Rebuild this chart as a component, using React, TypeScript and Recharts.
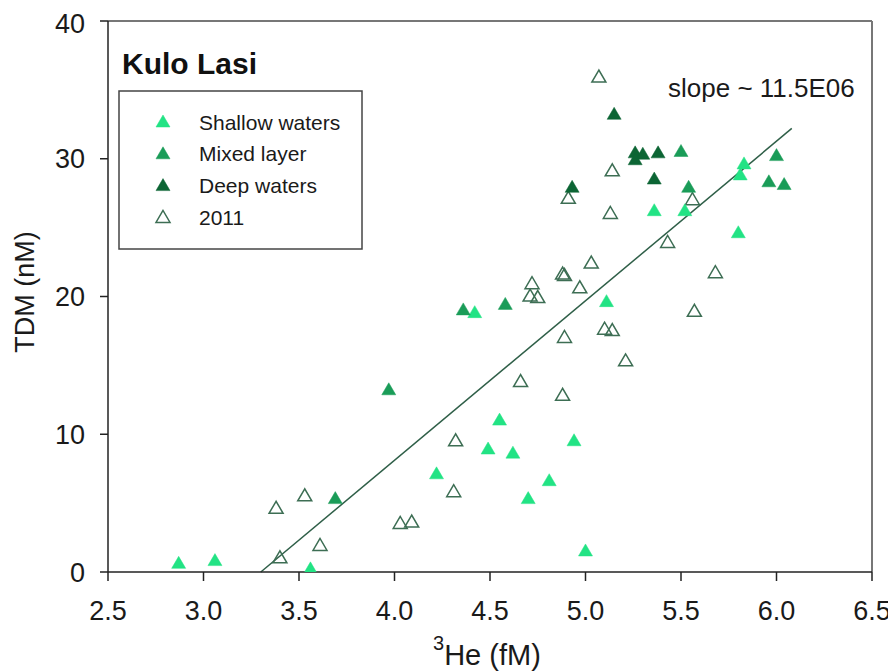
import React from 'react';
import { ScatterChart, Scatter, XAxis, YAxis, ReferenceLine } from 'recharts';

// 3He (fM) vs TDM (nM) measurements, grouped by water layer
const shallowWaters = [
  { he: 2.87, tdm: 0.7 }, { he: 3.06, tdm: 0.9 }, { he: 3.56, tdm: 0.3 },
  { he: 4.22, tdm: 7.2 }, { he: 4.42, tdm: 18.9 }, { he: 4.49, tdm: 9.0 },
  { he: 4.55, tdm: 11.1 }, { he: 4.62, tdm: 8.7 }, { he: 4.70, tdm: 5.4 },
  { he: 4.81, tdm: 6.7 }, { he: 4.94, tdm: 9.6 }, { he: 5.0, tdm: 1.6 },
  { he: 5.11, tdm: 19.7 }, { he: 5.36, tdm: 26.3 }, { he: 5.52, tdm: 26.3 },
  { he: 5.8, tdm: 24.7 }, { he: 5.81, tdm: 28.9 }, { he: 5.83, tdm: 29.7 },
];

const mixedLayer = [
  { he: 3.69, tdm: 5.4 }, { he: 3.97, tdm: 13.3 }, { he: 4.36, tdm: 19.1 },
  { he: 4.58, tdm: 19.5 }, { he: 5.5, tdm: 30.6 }, { he: 5.54, tdm: 28.0 },
  { he: 5.96, tdm: 28.4 }, { he: 6.0, tdm: 30.3 }, { he: 6.04, tdm: 28.2 },
];

const deepWaters = [
  { he: 4.93, tdm: 28.0 }, { he: 5.15, tdm: 33.3 }, { he: 5.26, tdm: 30.5 },
  { he: 5.3, tdm: 30.4 }, { he: 5.26, tdm: 30.0 }, { he: 5.38, tdm: 30.5 },
  { he: 5.36, tdm: 28.6 },
];

const samples2011 = [
  { he: 3.38, tdm: 4.7 }, { he: 3.4, tdm: 1.1 }, { he: 3.53, tdm: 5.6 },
  { he: 3.61, tdm: 2.0 }, { he: 4.03, tdm: 3.6 }, { he: 4.09, tdm: 3.7 },
  { he: 4.31, tdm: 5.9 }, { he: 4.32, tdm: 9.6 }, { he: 4.66, tdm: 13.9 },
  { he: 4.71, tdm: 20.1 }, { he: 4.72, tdm: 21.0 }, { he: 4.75, tdm: 20.0 },
  { he: 4.88, tdm: 12.9 }, { he: 4.88, tdm: 21.7 }, { he: 4.89, tdm: 21.6 },
  { he: 4.89, tdm: 17.1 }, { he: 4.91, tdm: 27.2 }, { he: 4.97, tdm: 20.7 },
  { he: 5.03, tdm: 22.5 }, { he: 5.07, tdm: 36.0 }, { he: 5.1, tdm: 17.7 },
  { he: 5.13, tdm: 26.1 }, { he: 5.14, tdm: 17.6 }, { he: 5.14, tdm: 29.2 },
  { he: 5.21, tdm: 15.4 }, { he: 5.43, tdm: 24.0 }, { he: 5.56, tdm: 27.1 },
  { he: 5.57, tdm: 19.0 }, { he: 5.68, tdm: 21.8 },
];

// Linear fit end points (slope ~ 11.5 nM per fM)
const fitLine = [
  { he: 3.3, tdm: 0 },
  { he: 6.08, tdm: 32.2 },
];

const xTicks = [2.5, 3.0, 3.5, 4.0, 4.5, 5.0, 5.5, 6.0, 6.5];
const yTicks = [0, 10, 20, 30, 40];

const FONT = '"Liberation Sans", Arial, Helvetica, sans-serif';

const COLORS = {
  shallow: '#22e384',
  mixed: '#1a9c58',
  deep: '#0c6534',
  y2011: '#3d6e54',
  fit: '#2f5f48',
};

const legendItems = [
  { label: 'Shallow waters', color: COLORS.shallow, filled: true },
  { label: 'Mixed layer', color: COLORS.mixed, filled: true },
  { label: 'Deep waters', color: COLORS.deep, filled: true },
  { label: '2011', color: COLORS.y2011, filled: false },
];

const triPoints = (cx: number, cy: number) =>
  `${cx},${cy - 7} ${cx - 7},${cy + 5} ${cx + 7},${cy + 5}`;

const makeTriangle = (color: string, filled: boolean) => (props: any) => {
  const { cx, cy } = props;
  if (cx == null || cy == null) return <g />;
  return (
    <polygon
      points={triPoints(cx, cy + 1)}
      fill={filled ? color : 'none'}
      stroke={color}
      strokeWidth={filled ? 0.5 : 1.5}
      strokeLinejoin="miter"
    />
  );
};

const LegendBox = () => (
  <g>
    <rect x={111} y={83} width={243} height={158} fill="#fff" stroke="#444" strokeWidth={1.5} />
    {legendItems.map((item, i) => {
      const cy = 114 + i * 31.8;
      return (
        <g key={item.label}>
          <polygon
            points={triPoints(155, cy)}
            fill={item.filled ? item.color : 'none'}
            stroke={item.color}
            strokeWidth={item.filled ? 0.5 : 1.5}
          />
          <text x={191} y={cy + 7.5} fontSize={21} fontFamily={FONT} fill="#1a1a1a">
            {item.label}
          </text>
        </g>
      );
    })}
  </g>
);

export default function App() {
  return (
    <ScatterChart
      width={888}
      height={664}
      margin={{ top: 13, right: 24, bottom: 40, left: 40 }}
      style={{ fontFamily: FONT }}
    >
      <XAxis
        type="number"
        dataKey="he"
        domain={[2.5, 6.5]}
        ticks={xTicks}
        tickFormatter={(v: number) => v.toFixed(1)}
        allowDataOverflow
        height={60}
        stroke="#222"
        strokeWidth={1.5}
        tickSize={9}
        tickMargin={20}
        tick={{ fontSize: 27, fill: '#1a1a1a', fontFamily: FONT }}
      />
      <YAxis
        type="number"
        dataKey="tdm"
        domain={[0, 40]}
        ticks={yTicks}
        allowDataOverflow
        width={60}
        stroke="#222"
        strokeWidth={1.5}
        tickSize={8}
        tickMargin={15}
        tick={{ fontSize: 27, fill: '#1a1a1a', fontFamily: FONT }}
      />
      <ReferenceLine y={40} stroke="#777" strokeWidth={2} />
      <ReferenceLine x={6.5} stroke="#777" strokeWidth={2} />
      <ReferenceLine
        segment={[
          { x: fitLine[0].he, y: fitLine[0].tdm },
          { x: fitLine[1].he, y: fitLine[1].tdm },
        ]}
        stroke={COLORS.fit}
        strokeWidth={1.5}
        ifOverflow="visible"
      />
      <Scatter name="2011" data={samples2011} shape={makeTriangle(COLORS.y2011, false)} isAnimationActive={false} />
      <Scatter name="Shallow waters" data={shallowWaters} shape={makeTriangle(COLORS.shallow, true)} isAnimationActive={false} />
      <Scatter name="Mixed layer" data={mixedLayer} shape={makeTriangle(COLORS.mixed, true)} isAnimationActive={false} />
      <Scatter name="Deep waters" data={deepWaters} shape={makeTriangle(COLORS.deep, true)} isAnimationActive={false} />
      <LegendBox />
      <text x={114} y={66} fontSize={30} fontWeight="bold" fontFamily={FONT} fill="#111">
        Kulo Lasi
      </text>
      <text x={660} y={89} fontSize={26} fontFamily={FONT} fill="#1a1a1a">
        slope ~ 11.5E06
      </text>
      <text x={26} y={284} fontSize={27} fontFamily={FONT} fill="#1a1a1a" textAnchor="middle" transform="rotate(-90 26 284)">
        TDM (nM)
      </text>
      <text x={425} y={657} fontFamily={FONT} fill="#1a1a1a">
        <tspan fontSize={20} dy={-15}>3</tspan>
        <tspan fontSize={29} dy={15}>He (fM)</tspan>
      </text>
    </ScatterChart>
  );
}
